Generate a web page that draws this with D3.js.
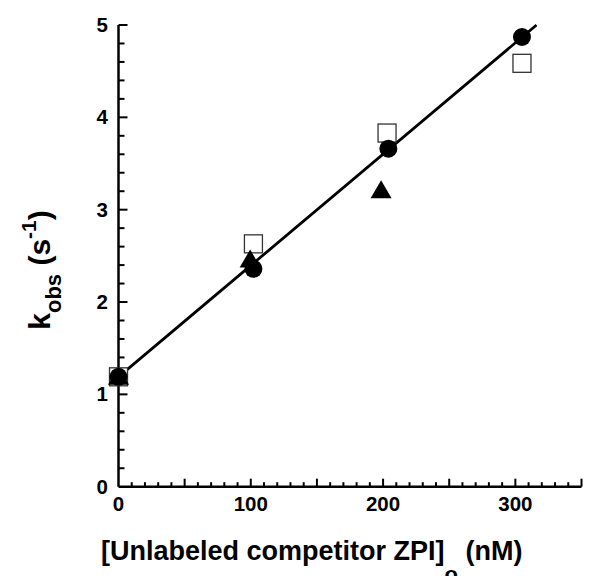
<!DOCTYPE html>
<html><head><meta charset="utf-8">
<script src="https://cdn.jsdelivr.net/npm/d3@7"></script>
<style>body{margin:0;background:#fff}svg{display:block}text{font-family:"Liberation Sans",Arial,sans-serif;font-weight:bold}</style>
</head><body>
<svg id="c" width="589" height="576"></svg>
<script>
const circleX=[0,102,204,305], circleY=[1.19,2.36,3.66,4.87];
const squareX=[0,102,203,305], squareY=[1.19,2.63,3.83,4.585];
const triX=[0,99.5,198.5], triY=[1.19,2.46,3.21];
const fitLine=[[0,1.19],[316,5.0]];
const xTicks=[0,100,200,300], yTicks=[0,1,2,3,4,5];

const svg=d3.select("#c");
const x=d3.scaleLinear().domain([0,350]).range([118.5,581.5]);
const y=d3.scaleLinear().domain([0,5]).range([486.7,25]);
const g=svg.append("g");

g.append("line").attr("x1",x(0)).attr("x2",x(350)).attr("y1",y(0)).attr("y2",y(0)).attr("stroke","#000").attr("stroke-width",2.5);
g.append("line").attr("x1",x(0)).attr("x2",x(0)).attr("y1",y(0)).attr("y2",y(5)).attr("stroke","#000").attr("stroke-width",2.5);
d3.range(10,351,10).forEach(v=>{
  const major=v%50===0;
  g.append("line").attr("x1",x(v)).attr("x2",x(v)).attr("y1",y(0)).attr("y2",y(0)-(major?8:4.5)).attr("stroke","#000").attr("stroke-width",2);
});
d3.range(0,26).map(i=>i*0.2).forEach((v,i)=>{
  if(i===0) return;
  const major=i%5===0;
  g.append("line").attr("x1",x(0)).attr("x2",x(0)+(major?9:6)).attr("y1",y(v)).attr("y2",y(v)).attr("stroke","#000").attr("stroke-width",2);
});
xTicks.forEach(v=>g.append("text").attr("x",x(v)).attr("y",511).attr("text-anchor","middle").attr("font-size",20.5).text(v));
yTicks.forEach(v=>g.append("text").attr("x",108).attr("y",y(v)+7).attr("text-anchor","end").attr("font-size",20.5).text(v));

g.append("path").attr("d",d3.line().x(d=>x(d[0])).y(d=>y(d[1]))(fitLine)).attr("stroke","#000").attr("stroke-width",2.8).attr("fill","none");

squareX.forEach((v,i)=>g.append("rect").attr("x",x(v)-9).attr("y",y(squareY[i])-9).attr("width",18).attr("height",18).attr("fill","#fff").attr("stroke","#333").attr("stroke-width",1.3));
triX.forEach((v,i)=>{
  const cx=x(v), cy=y(triY[i]);
  g.append("path").attr("d",`M${cx},${cy-10}L${cx+10.5},${cy+8}L${cx-10.5},${cy+8}Z`).attr("fill","#000");
});
circleX.forEach((v,i)=>g.append("circle").attr("cx",x(v)).attr("cy",y(circleY[i])).attr("r",9).attr("fill","#000"));

const xt=svg.append("text").attr("x",101).attr("y",560).attr("font-size",27);
xt.append("tspan").text("[Unlabeled competitor ZPI]");
xt.append("tspan").attr("dy",22).attr("font-size",22).text("o");
xt.append("tspan").attr("dy",-22).text(" (nM)");

const yt=svg.append("text").attr("transform","translate(50,270) rotate(-90)").attr("text-anchor","middle").attr("font-size",30);
yt.append("tspan").text("k");
yt.append("tspan").attr("dy",11).attr("font-size",22).text("obs");
yt.append("tspan").attr("dy",-11).text(" (s");
yt.append("tspan").attr("dy",-14).attr("font-size",21).text("-1");
yt.append("tspan").attr("dy",14).text(")");
</script>
</body></html>
